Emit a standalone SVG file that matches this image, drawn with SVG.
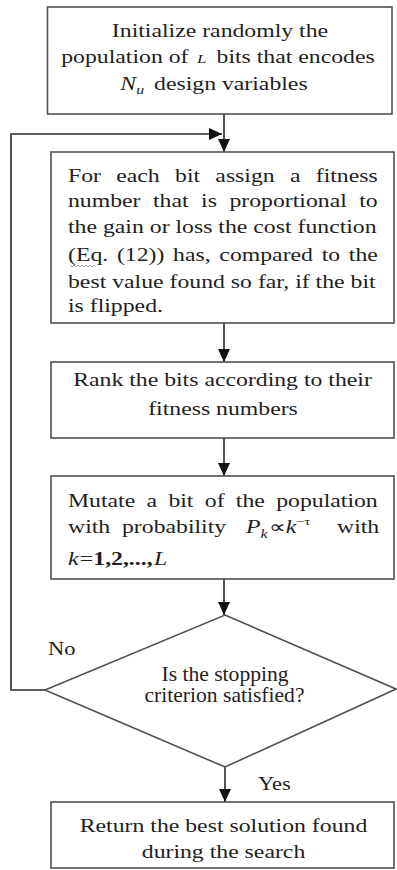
<svg xmlns="http://www.w3.org/2000/svg" width="397" height="870" viewBox="0 0 397 870">
<style>
.box{fill:#fff;stroke:#505050;stroke-width:1.6}
.t{font-family:"Liberation Serif","Times New Roman",serif;font-size:18px;fill:#1e1e1e}
.c{text-anchor:middle}
.i{font-style:italic}
.d{font-size:20px}
.con{fill:none;stroke:#2a2a2a;stroke-width:1.6}
</style>
<defs>
<marker id="ah" markerUnits="userSpaceOnUse" markerWidth="13" markerHeight="12" viewBox="0 0 13 12" refX="13" refY="6" orient="auto">
<path d="M0,0 L13,6 L0,12 Z" fill="#111"/>
</marker>
</defs>
<rect width="397" height="870" fill="#fff"/>

<g id="connectors">
<line class="con" x1="224" y1="114" x2="224" y2="152" marker-end="url(#ah)"/>
<polyline class="con" points="45,690 11,690 11,134 222,134" marker-end="url(#ah)"/>
<line class="con" x1="224" y1="323" x2="224" y2="362" marker-end="url(#ah)"/>
<line class="con" x1="224" y1="438" x2="224" y2="476" marker-end="url(#ah)"/>
<line class="con" x1="224" y1="579" x2="224" y2="615" marker-end="url(#ah)"/>
<line class="con" x1="225" y1="767" x2="225" y2="802" marker-end="url(#ah)"/>
<text class="t" transform="translate(48,655) scale(1.25,1)">No</text>
<text class="t" transform="translate(258,790) scale(1.25,1)">Yes</text>
</g>

<g id="n1">
<rect class="box" x="47.5" y="7" width="344.5" height="107"/>
<text class="t c" transform="translate(220,37) scale(1.32,1)">Initialize randomly the</text>
<text class="t c" transform="translate(218,63) scale(1.32,1)">population of <tspan class="i" font-size="13" dx="2">L</tspan><tspan dx="3"> bits that encodes</tspan></text>
<text class="t c" transform="translate(214,90) scale(1.32,1)"><tspan class="i">N</tspan><tspan class="i" font-size="12" dy="4">u</tspan><tspan dy="-4" dx="3"> design variables</tspan></text>
</g>

<g id="n2">
<rect class="box" x="51" y="152" width="343" height="171"/>
<text class="t" transform="translate(68,182) scale(1.32,1)" word-spacing="7.07">For each bit assign a fitness</text>
<text class="t" transform="translate(68,207) scale(1.32,1)" word-spacing="4.96">number that is proportional to</text>
<text class="t" transform="translate(68,233) scale(1.32,1)">the gain or loss the cost function</text>
<text class="t" transform="translate(68,261) scale(1.32,1)" word-spacing="2.09">(Eq. (12)) has, compared to the</text>
<path d="M70,265 l2,2 l2,-2 l2,2 l2,-2 l2,2 l2,-2 l2,2 l2,-2 l2,2 l2,-2 l2,2 l2,-2" fill="none" stroke="#8a8a8a" stroke-width="0.8"/>
<text class="t" transform="translate(68,288) scale(1.32,1)">best value found so far, if the bit</text>
<text class="t" transform="translate(68,312) scale(1.32,1)">is flipped.</text>
</g>

<g id="n3">
<rect class="box" x="51" y="362" width="343" height="76"/>
<text class="t c" transform="translate(222.5,386) scale(1.32,1)">Rank the bits according to their</text>
<text class="t c" transform="translate(223,415) scale(1.32,1)">fitness numbers</text>
</g>

<g id="n4">
<rect class="box" x="51" y="476" width="343" height="103"/>
<text class="t" transform="translate(68,507) scale(1.32,1)" word-spacing="4.07">Mutate a bit of the population</text>
<text class="t" transform="translate(68,533) scale(1.32,1)">with</text>
<text class="t" transform="translate(122,533) scale(1.32,1)">probability</text>
<text class="t" transform="translate(246,533) scale(1.32,1)"><tspan class="i">P</tspan><tspan class="i" font-size="12" dy="5">k</tspan><tspan dy="-5" dx="1">∝</tspan><tspan class="i">k</tspan><tspan font-size="11" dy="-8">−τ</tspan></text>
<text class="t" transform="translate(337,533) scale(1.32,1)">with</text>
<text class="t" transform="translate(68,565) scale(1.32,1)"><tspan class="i">k</tspan><tspan dx="1">=</tspan><tspan font-weight="bold">1,2,...,</tspan><tspan class="i" dx="1">L</tspan></text>
</g>

<g id="n5">
<polygon class="box" points="225,615 396,689 225,767 45,690"/>
<text class="t c d" transform="translate(225,681) scale(1.08,1)">Is the stopping</text>
<text class="t c d" transform="translate(224.5,702) scale(1.08,1)">criterion satisfied?</text>
</g>

<g id="n6">
<rect class="box" x="51" y="802" width="343" height="66"/>
<text class="t c" transform="translate(223.5,832) scale(1.32,1)">Return the best solution found</text>
<text class="t c" transform="translate(223.5,858) scale(1.32,1)">during the search</text>
</g>
</svg>
